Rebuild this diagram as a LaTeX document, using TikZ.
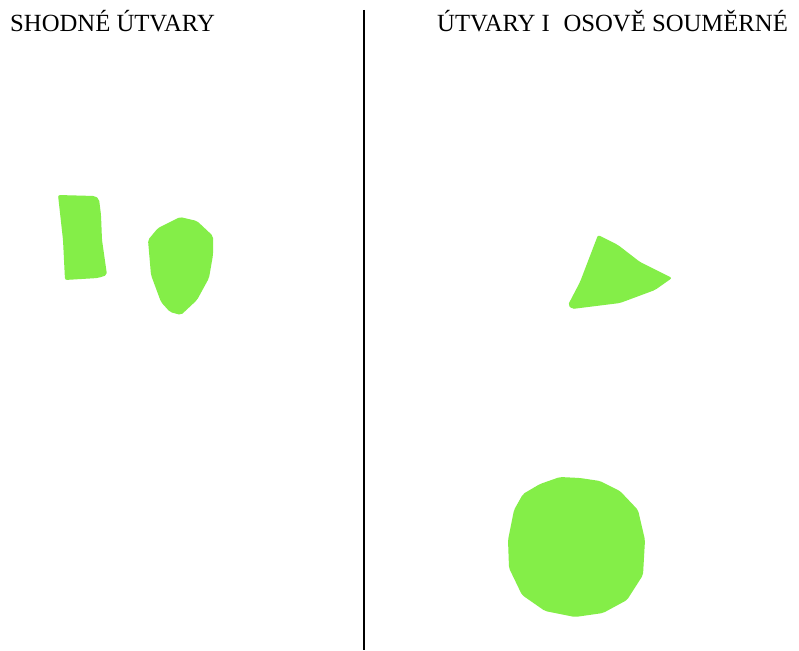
\documentclass[tikz,border=0pt]{standalone}
\usepackage{fontspec}
\setmainfont{Liberation Serif}
\definecolor{paper}{HTML}{84EE48}
\tikzset{piece/.style={fill=paper,draw=none,rounded corners=2pt},
  title/.style={anchor=base west,inner sep=0pt,font=\fontsize{24.7}{28}\selectfont}}
\begin{document}
\begin{tikzpicture}[x=1pt,y=-1pt]
\useasboundingbox[fill=white] (0,0) rectangle (799,650);
\draw[line width=1.4pt] (364,10) -- (364,650);
\node[title] (left) at (10,32) {SHODNÉ ÚTVARY};
\node[title] (right) at (437,32) {ÚTVARY I\hspace{0.55em}OSOVĚ SOUMĚRNÉ};
% rectangle piece
\fill[piece] (58,195) -- (95,196) -- (99,199) -- (101,215) -- (102,240) -- (107,275) -- (98,278) -- (65,280) -- (63,240) -- cycle;
% shield piece
\fill[piece] (180,217) -- (197,221) -- (213,236) -- (213,255) -- (209,278) -- (197,300) -- (181,315) -- (170,312) -- (161,302) -- (151,275) -- (148,240) -- (158,228) -- cycle;
% triangle piece
\fill[piece] (598,235) -- (618,245) -- (640,262) -- (672,278) -- (655,290) -- (620,303) -- (572,309) -- (568,305) -- (580,282) -- cycle;
% round piece
\fill[piece] (560,477) -- (580,478) -- (600,481) -- (620,491) -- (638,510) -- (645,540) -- (643,575) -- (627,600) -- (603,613) -- (575,617) -- (545,611) -- (522,595) -- (509,568) -- (508,540) -- (514,510) -- (523,494) -- (540,484) -- cycle;
\end{tikzpicture}
\end{document}
